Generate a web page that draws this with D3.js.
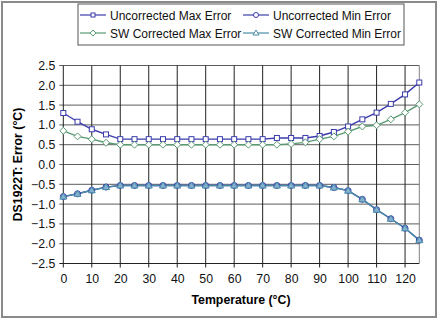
<!DOCTYPE html>
<html><head><meta charset="utf-8">
<script src="https://cdn.jsdelivr.net/npm/d3@7"></script>
<style>body{margin:0;background:#fff}svg{display:block;font-family:"Liberation Sans",Arial,sans-serif}</style>
</head><body><svg id="c" width="440" height="325"></svg>
<script>
const temps = [0,5,10,15,20,25,30,35,40,45,50,55,60,65,70,75,80,85,90,95,100,105,110,115,120,125];
const uncorrMax = [1.30,1.08,0.89,0.76,0.64,0.64,0.64,0.64,0.64,0.64,0.64,0.64,0.64,0.64,0.64,0.67,0.67,0.67,0.72,0.82,0.96,1.14,1.31,1.53,1.77,2.07];
const uncorrMin = [-0.81,-0.74,-0.65,-0.57,-0.53,-0.53,-0.53,-0.53,-0.53,-0.53,-0.53,-0.53,-0.53,-0.53,-0.53,-0.53,-0.53,-0.53,-0.53,-0.58,-0.66,-0.88,-1.14,-1.37,-1.61,-1.91];
const swMax = [0.85,0.71,0.64,0.55,0.50,0.50,0.50,0.50,0.50,0.50,0.50,0.50,0.50,0.50,0.50,0.50,0.52,0.56,0.64,0.71,0.83,0.96,0.99,1.14,1.31,1.52];
const swMin = [-0.81,-0.74,-0.65,-0.57,-0.53,-0.53,-0.53,-0.53,-0.53,-0.53,-0.53,-0.53,-0.53,-0.53,-0.53,-0.53,-0.53,-0.53,-0.53,-0.58,-0.66,-0.88,-1.14,-1.37,-1.61,-1.91];
const seriesNames = ["Uncorrected Max Error","Uncorrected Min Error","SW Corrected Max Error","SW Corrected Min Error"];
const xTicks = [0,10,20,30,40,50,60,70,80,90,100,110,120];
const yTicks = [-2.5,-2.0,-1.5,-1.0,-0.5,0.0,0.5,1.0,1.5,2.0,2.5];

const series = [
  {name:seriesNames[0], values:uncorrMax, color:"#3c3cac", marker:"square", fill:"#fff", chartFill:"#fff"},
  {name:seriesNames[1], values:uncorrMin, color:"#3c3cac", marker:"circle", fill:"#fff", chartFill:"#7fa8cc"},
  {name:seriesNames[2], values:swMax, color:"#5a9a72", marker:"diamond", fill:"#fff", chartFill:"#fff"},
  {name:seriesNames[3], values:swMin, color:"#4a8ca8", marker:"triangle", fill:"#fff", chartFill:"#86b2d0"}
];

const svg = d3.select("#c");
svg.append("rect").attr("x",2).attr("y",2).attr("width",434).attr("height",315)
  .attr("fill","#fff").attr("stroke","#8a8a8a").attr("stroke-width",2);

const L=63.3, R=419.3, T=65.5, B=263.5;
const x = d3.scaleLinear().domain([0,125]).range([L,R]);
const y = d3.scaleLinear().domain([-2.5,2.5]).range([B,T]);

const g = svg.append("g");
g.selectAll("line.h").data(yTicks).join("line")
  .attr("x1",L-4).attr("x2",R).attr("y1",d=>y(d)).attr("y2",d=>y(d))
  .attr("stroke",d=>d===-2.5?"#222":"#5c5c5c").attr("stroke-width",1);
g.selectAll("line.v").data(xTicks).join("line")
  .attr("x1",d=>x(d)).attr("x2",d=>x(d)).attr("y1",T).attr("y2",B+4)
  .attr("stroke","#222").attr("stroke-width",1);
g.append("line").attr("x1",R).attr("x2",R).attr("y1",T).attr("y2",B).attr("stroke","#808080");

const xa = svg.append("g").attr("transform",`translate(0,${B})`)
  .call(d3.axisBottom(x).tickValues(xTicks).tickSize(0).tickPadding(11).tickFormat(d3.format("d")));
xa.select(".domain").remove();
xa.selectAll("text").attr("font-size",12.3).attr("fill","#111").attr("font-family","Liberation Sans, Arial, sans-serif");
const ya = svg.append("g").attr("transform",`translate(${L},0)`)
  .call(d3.axisLeft(y).tickValues(yTicks).tickSize(0).tickPadding(8).tickFormat(d3.format(".1f")));
ya.select(".domain").remove();
ya.selectAll("text").attr("font-size",12.3).attr("fill","#111").attr("font-family","Liberation Sans, Arial, sans-serif");

svg.append("text").attr("x",241).attr("y",304).attr("text-anchor","middle")
  .attr("font-size",12.3).attr("font-weight","bold").text("Temperature (°C)");
svg.append("text").attr("transform",`translate(22,${(T+B)/2}) rotate(-90)`).attr("text-anchor","middle")
  .attr("font-size",12.3).attr("font-weight","bold").text("DS1922T: Error (°C)");

function marker(sel, type, s){
  if(type==="square") sel.append("rect").attr("x",-s).attr("y",-s).attr("width",2*s).attr("height",2*s);
  else if(type==="circle") sel.append("circle").attr("r",s+0.5);
  else if(type==="diamond") sel.append("path").attr("d",`M0,${-s-1}L${s+1},0L0,${s+1}L${-s-1},0Z`);
  else sel.append("path").attr("d",`M0,${-s-1}L${s+1},${s}L${-s-1},${s}Z`);
}

const line = d3.line().x((d,i)=>x(temps[i])).y(d=>y(d));
series.forEach(sr=>{
  svg.append("path").datum(sr.values).attr("d",line).attr("fill","none")
    .attr("stroke",sr.color).attr("stroke-width",1.4);
});
series.forEach(sr=>{
  const mg = svg.append("g").attr("fill",sr.chartFill).attr("stroke",sr.color).attr("stroke-width",1);
  sr.values.forEach((v,i)=>{
    const m = mg.append("g").attr("transform",`translate(${x(temps[i])},${y(v)})`);
    marker(m, sr.marker, 2.5);
  });
});

const lg = svg.append("g");
lg.append("rect").attr("x",78).attr("y",4).attr("width",326).attr("height",41)
  .attr("fill","#fff").attr("stroke","#555").attr("stroke-width",1);
const pos = [[80,15],[243,15],[80,33],[243,33]];
series.forEach((sr,i)=>{
  const [px,py]=pos[i];
  lg.append("line").attr("x1",px).attr("x2",px+26).attr("y1",py).attr("y2",py).attr("stroke",sr.color).attr("stroke-width",1.2);
  const m = lg.append("g").attr("transform",`translate(${px+13},${py})`).attr("fill",sr.fill).attr("stroke",sr.color);
  marker(m, sr.marker, 2);
  lg.append("text").attr("x",px+30).attr("y",py+4.5).attr("font-size",12).attr("fill","#111").text(sr.name);
});
</script></body></html>
